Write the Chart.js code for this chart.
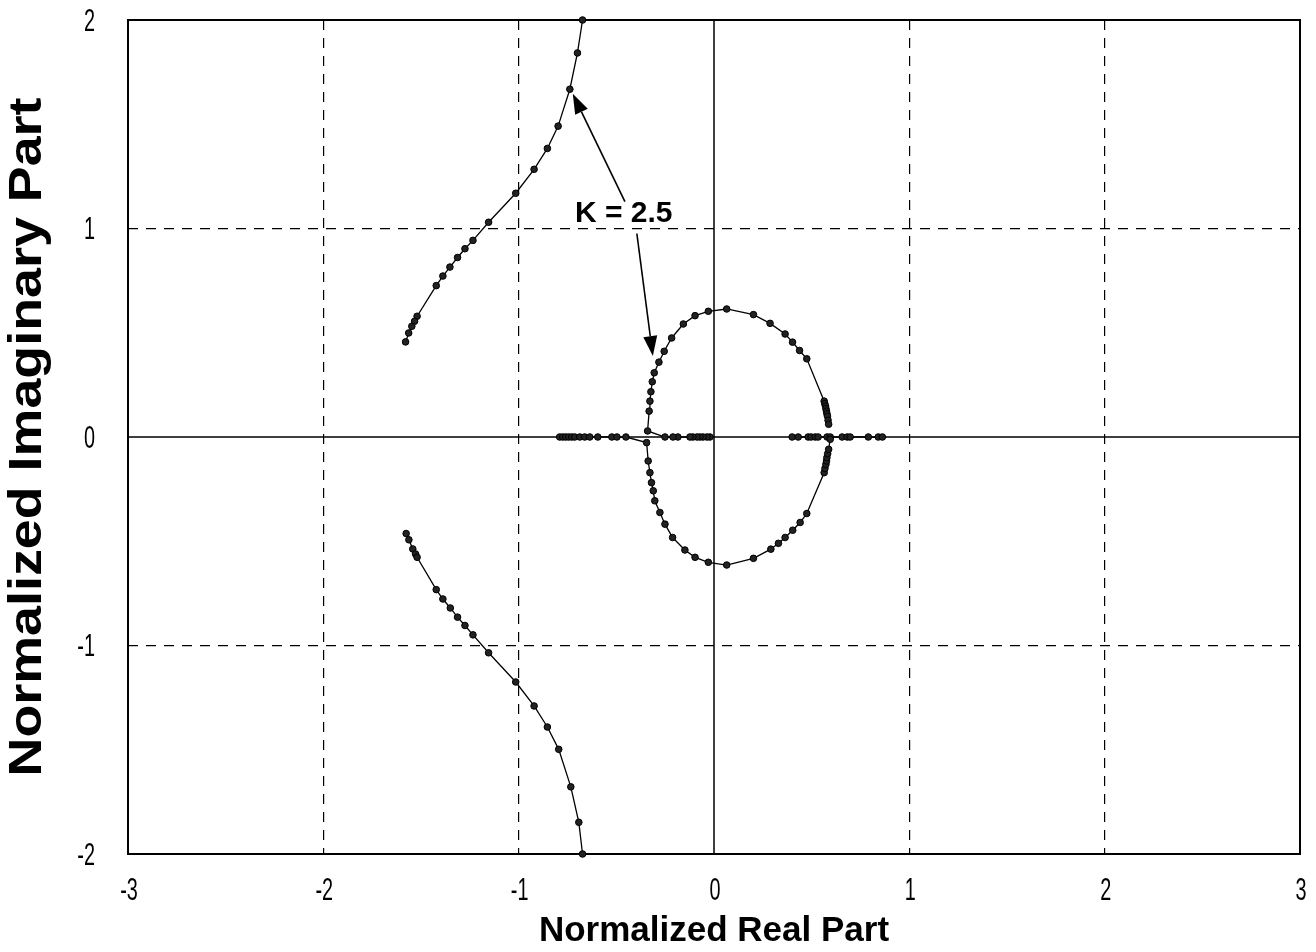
<!DOCTYPE html>
<html>
<head>
<meta charset="utf-8">
<script src="https://cdn.jsdelivr.net/npm/chart.js@4/dist/chart.umd.min.js"></script>
<style>
  html, body { margin: 0; padding: 0; background: #ffffff; }
  canvas { display: block; }
</style>
</head>
<body>
<canvas id="c" width="1316" height="952"></canvas>
<script>
// ---------------- data ----------------
const xTicks = [-3, -2, -1, 0, 1, 2, 3];
const yTicks = [-2, -1, 0, 1, 2];

// upper-left branch
const upperLeftRe = [-0.673, -0.699, -0.738, -0.798, -0.853, -0.921, -1.015, -1.154, -1.234, -1.275, -1.313, -1.352, -1.388, -1.422, -1.520, -1.533, -1.547, -1.563, -1.579];
const upperLeftIm = [2.000, 1.842, 1.668, 1.491, 1.384, 1.284, 1.169, 1.030, 0.943, 0.903, 0.861, 0.815, 0.772, 0.726, 0.579, 0.555, 0.531, 0.499, 0.456];

// lower-left branch
const lowerLeftRe = [-1.576, -1.562, -1.542, -1.528, -1.520, -1.422, -1.388, -1.350, -1.313, -1.275, -1.234, -1.154, -1.015, -0.921, -0.853, -0.795, -0.733, -0.692, -0.673];
const lowerLeftIm = [-0.463, -0.493, -0.537, -0.561, -0.577, -0.732, -0.777, -0.820, -0.864, -0.904, -0.949, -1.035, -1.175, -1.290, -1.391, -1.498, -1.678, -1.848, -2.000];

// real-axis segment, left of the loop
const axisLeftRe = [-0.790, -0.774, -0.759, -0.744, -0.728, -0.713, -0.687, -0.662, -0.636, -0.595, -0.523, -0.497, -0.451];
const axisLeftIm = [0, 0, 0, 0, 0, 0, 0, 0, 0, 0, 0, 0, 0];

// lower half of the loop
const lowerLoopRe = [-0.345, -0.337, -0.328, -0.320, -0.311, -0.303, -0.277, -0.251, -0.212, -0.149, -0.097, -0.029, 0.065, 0.202, 0.291, 0.330, 0.364, 0.403, 0.441, 0.475, 0.564, 0.568, 0.573, 0.576, 0.578, 0.582, 0.587, 0.595];
const lowerLoopIm = [-0.027, -0.115, -0.171, -0.219, -0.258, -0.306, -0.362, -0.418, -0.482, -0.542, -0.577, -0.601, -0.614, -0.582, -0.538, -0.510, -0.482, -0.447, -0.410, -0.367, -0.171, -0.151, -0.131, -0.115, -0.099, -0.080, -0.059, -0.011];

// real-axis segment inside the loop
const axisMidRe = [-0.021, -0.036, -0.056, -0.072, -0.087, -0.108, -0.123, -0.185, -0.210, -0.251];
const axisMidIm = [0, 0, 0, 0, 0, 0, 0, 0, 0, 0];

// upper half of the loop
const upperLoopRe = [-0.340, -0.332, -0.328, -0.323, -0.316, -0.306, -0.282, -0.255, -0.217, -0.157, -0.097, -0.029, 0.065, 0.202, 0.287, 0.364, 0.402, 0.438, 0.475, 0.564, 0.567, 0.571, 0.573, 0.576, 0.578, 0.581, 0.584, 0.587];
const upperLoopIm = [0.029, 0.124, 0.172, 0.217, 0.265, 0.308, 0.359, 0.411, 0.475, 0.542, 0.582, 0.603, 0.614, 0.587, 0.545, 0.494, 0.455, 0.415, 0.375, 0.172, 0.160, 0.148, 0.136, 0.124, 0.112, 0.100, 0.080, 0.061];

// real-axis segment right of the loop
const axisRightRe = [0.400, 0.431, 0.482, 0.497, 0.518, 0.533, 0.579, 0.595, 0.656, 0.682, 0.697, 0.790, 0.841, 0.862];
const axisRightIm = [0, 0, 0, 0, 0, 0, 0, 0, 0, 0, 0, 0, 0, 0];

// annotation (data coordinates)
const annotationText = "K = 2.5";
const annotationAt = [-0.462, 1.072];
const arrowTails = [[-0.456, 1.129], [-0.395, 0.976]];
const arrowTips  = [[-0.723, 1.646], [-0.313, 0.388]];

const xTitle = "Normalized Real Part";
const yTitle = "Normalized Imaginary Part";

// ---------------- build ----------------
function pts(re, im) { return re.map((v, i) => ({ x: v, y: im[i] })); }

const series = [
  pts(upperLeftRe, upperLeftIm),
  pts(lowerLeftRe, lowerLeftIm),
  pts(axisLeftRe.concat(lowerLoopRe), axisLeftIm.concat(lowerLoopIm)),
  pts(axisMidRe.concat(upperLoopRe), axisMidIm.concat(upperLoopIm)),
  pts(axisRightRe, axisRightIm)
];

const datasets = series.map(d => ({
  data: d,
  showLine: true,
  borderColor: '#000',
  borderWidth: 1.3,
  pointRadius: 3.3,
  pointBackgroundColor: '#222',
  pointBorderColor: '#000',
  pointBorderWidth: 1,
  tension: 0,
  clip: 4
}));

const bgPlugin = {
  id: 'bg',
  beforeDraw(chart) {
    const ctx = chart.ctx;
    ctx.save();
    ctx.fillStyle = '#fff';
    ctx.fillRect(0, 0, chart.width, chart.height);
    ctx.restore();
  }
};

const framePlugin = {
  id: 'frame',
  beforeDatasetsDraw(chart) {
    const { ctx, chartArea: a, scales } = chart;
    const x0 = scales.x.getPixelForValue(0);
    const y0 = scales.y.getPixelForValue(0);
    ctx.save();
    ctx.strokeStyle = '#000';
    ctx.lineWidth = 1.5;
    ctx.beginPath();
    ctx.moveTo(x0, a.top); ctx.lineTo(x0, a.bottom);
    ctx.moveTo(a.left, y0); ctx.lineTo(a.right, y0);
    ctx.stroke();
    ctx.lineWidth = 2;
    ctx.strokeRect(a.left, a.top, a.right - a.left, a.bottom - a.top);
    ctx.restore();
  }
};

// narrow tick labels and the (tall) y-axis title
const textPlugin = {
  id: 'axisText',
  afterDraw(chart) {
    const { ctx, chartArea: a, scales } = chart;
    const sx = 0.62;
    ctx.save();
    ctx.fillStyle = '#000';
    ctx.font = '32px "Liberation Sans", Arial, sans-serif';
    ctx.textBaseline = 'middle';
    ctx.textAlign = 'center';
    xTicks.forEach(v => {
      const x = scales.x.getPixelForValue(v);
      ctx.save();
      ctx.translate(x + 1, a.bottom + 37);
      ctx.scale(sx, 1);
      ctx.fillText(String(v), 0, 0);
      ctx.restore();
    });
    ctx.textAlign = 'right';
    yTicks.forEach(v => {
      const y = scales.y.getPixelForValue(v);
      ctx.save();
      ctx.translate(a.left - 33, y + 2);
      ctx.scale(sx, 1);
      ctx.fillText(String(v), 0, 0);
      ctx.restore();
    });
    // y-axis title
    ctx.save();
    ctx.font = 'bold 46px "Liberation Sans", Arial, sans-serif';
    ctx.textAlign = 'center';
    ctx.textBaseline = 'middle';
    ctx.translate(28, (a.top + a.bottom) / 2);
    ctx.rotate(-Math.PI / 2);
    ctx.scale(1.17, 1);
    ctx.fillText(yTitle, 0, 0);
    ctx.restore();
    ctx.restore();
  }
};

const annotPlugin = {
  id: 'annot',
  afterDatasetsDraw(chart) {
    const { ctx, scales } = chart;
    const px = p => [scales.x.getPixelForValue(p[0]), scales.y.getPixelForValue(p[1])];
    ctx.save();
    ctx.strokeStyle = '#000';
    ctx.fillStyle = '#000';
    ctx.lineWidth = 1.6;
    arrowTails.forEach((t, i) => {
      const [x1, y1] = px(t);
      const [x2, y2] = px(arrowTips[i]);
      const ang = Math.atan2(y2 - y1, x2 - x1);
      const len = 20, half = 7;
      const bx = x2 - len * Math.cos(ang), by = y2 - len * Math.sin(ang);
      ctx.beginPath();
      ctx.moveTo(x1, y1); ctx.lineTo(bx, by);
      ctx.stroke();
      ctx.beginPath();
      ctx.moveTo(x2, y2);
      ctx.lineTo(bx + half * Math.sin(ang), by - half * Math.cos(ang));
      ctx.lineTo(bx - half * Math.sin(ang), by + half * Math.cos(ang));
      ctx.closePath();
      ctx.fill();
    });
    const [tx, ty] = px(annotationAt);
    ctx.font = 'bold 30px "Liberation Sans", Arial, sans-serif';
    ctx.textAlign = 'center';
    ctx.textBaseline = 'middle';
    ctx.fillText(annotationText, tx, ty);
    ctx.restore();
  }
};

function zeroPad(s) { s.paddingTop = 0; s.paddingBottom = 0; s.paddingLeft = 0; s.paddingRight = 0; }

new Chart(document.getElementById('c'), {
  type: 'scatter',
  data: { datasets },
  options: {
    responsive: false,
    animation: false,
    events: [],
    layout: { padding: { top: 20, right: 16, left: 0, bottom: 0 } },
    plugins: { legend: { display: false }, tooltip: { enabled: false } },
    scales: {
      x: {
        type: 'linear', min: -3, max: 3,
        afterBuildTicks: s => { s.ticks = xTicks.map(v => ({ value: v })); },
        afterFit: s => { s.height = 98; zeroPad(s); },
        ticks: { display: false },
        grid: {
          drawTicks: false,
          color: c => (c.tick && c.tick.value === 0) ? 'rgba(0,0,0,0)' : '#000',
          lineWidth: 1.2
        },
        border: { display: false, dash: [10, 8] },
        title: { display: true, text: xTitle, color: '#000',
                 font: { family: '"Liberation Sans", Arial, sans-serif', size: 35, weight: 'bold', lineHeight: 1 },
                 padding: { top: 0, bottom: 3 } }
      },
      y: {
        type: 'linear', min: -2, max: 2,
        afterBuildTicks: s => { s.ticks = yTicks.map(v => ({ value: v })); },
        afterFit: s => { s.width = 128; zeroPad(s); },
        ticks: { display: false },
        grid: {
          drawTicks: false,
          color: c => (c.tick && c.tick.value === 0) ? 'rgba(0,0,0,0)' : '#000',
          lineWidth: 1.2
        },
        border: { display: false, dash: [10, 8] },
        title: { display: false, text: yTitle }
      }
    }
  },
  plugins: [bgPlugin, framePlugin, annotPlugin, textPlugin]
});
</script>
</body>
</html>
